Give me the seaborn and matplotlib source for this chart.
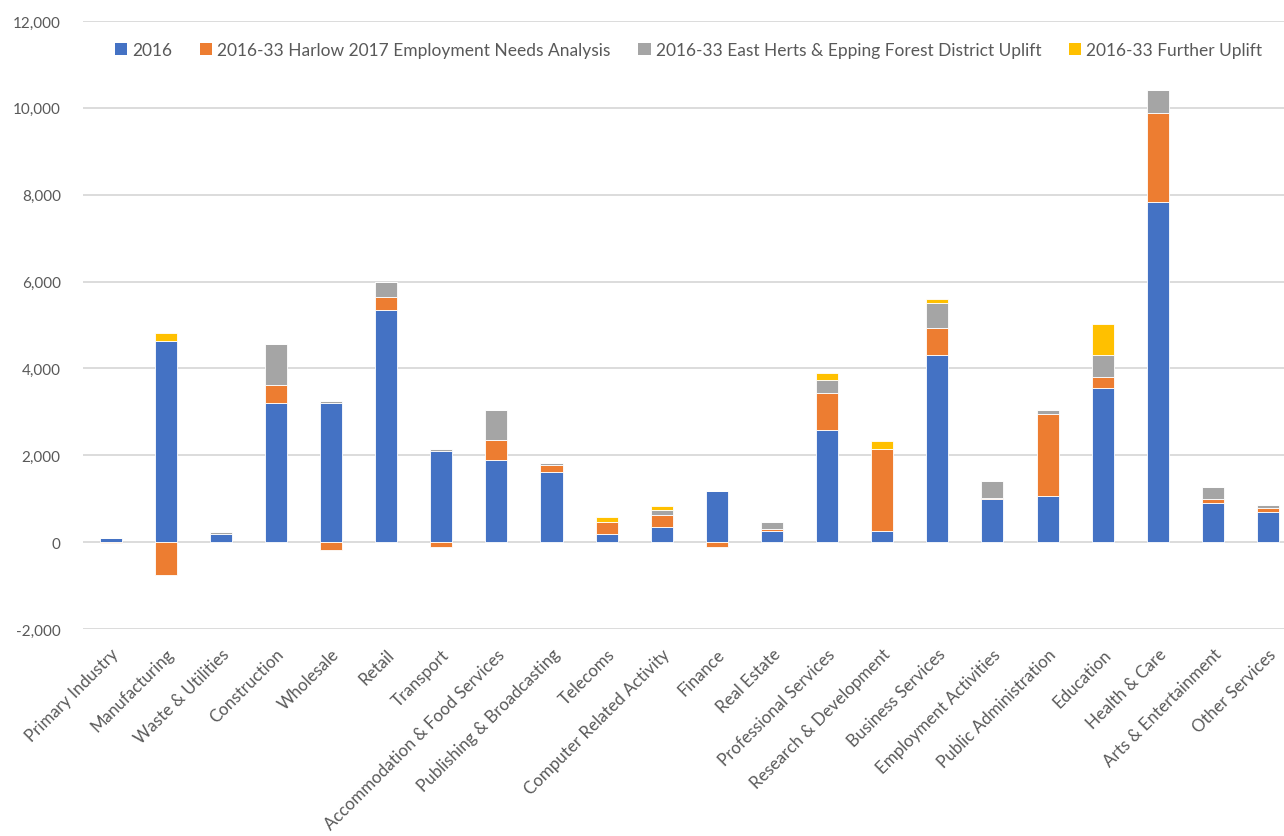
import numpy as np
import pandas as pd
import matplotlib
matplotlib.use("Agg")
import matplotlib.pyplot as plt
import seaborn as sns
from matplotlib.ticker import FuncFormatter
from matplotlib.patches import Patch

categories = ["Primary Industry", "Manufacturing", "Waste & Utilities", "Construction",
              "Wholesale", "Retail", "Transport", "Accommodation & Food Services",
              "Publishing & Broadcasting", "Telecoms", "Computer Related Activity",
              "Finance", "Real Estate", "Professional Services", "Research & Development",
              "Business Services", "Employment Activities", "Public Administration",
              "Education", "Health & Care", "Arts & Entertainment", "Other Services"]
v2016 = [100, 4640, 185, 3210, 3210, 5345, 2100, 1890, 1615, 185, 340, 1170, 255,
         2585, 255, 4300, 985, 1070, 3555, 7840, 905, 705]
harlow = [-15, -760, 0, 410, -190, 300, -115, 455, 160, 275, 285, -115, 45,
          860, 1885, 640, 40, 1870, 240, 2045, 80, 70]
eh_uplift = [0, 0, 40, 945, 40, 345, 40, 700, 45, 0, 125, 0, 170,
             300, 0, 570, 380, 95, 505, 530, 295, 85]
further = [0, 175, 0, 0, 0, 0, 0, 0, 0, 125, 90, 0, 0,
           160, 200, 90, 0, 0, 730, 0, 0, 0]

series_names = ["2016", "2016-33 Harlow 2017 Employment Needs Analysis",
                "2016-33 East Herts & Epping Forest District Uplift",
                "2016-33 Further Uplift"]
series_vals = [v2016, harlow, eh_uplift, further]
colors = ["#4472C4", "#ED7D31", "#A5A5A5", "#FFC000"]

sns.set_style("white")
plt.rcParams['font.family'] = ['Lato', 'DejaVu Sans']
text_color = "#595959"

fig = plt.figure(figsize=(12.84, 8.37), dpi=100)
ax = fig.add_axes([83/1284, 1 - 630/837, (1284 - 83)/1284, (630 - 22)/837])

pos_base = np.zeros(len(categories))
neg_base = np.zeros(len(categories))
for name, vals, col in zip(series_names, series_vals, colors):
    vals = np.array(vals, dtype=float)
    bottoms = np.where(vals >= 0, pos_base, neg_base)
    df = pd.DataFrame({"cat": categories, "val": vals})
    sns.barplot(data=df, x="cat", y="val", order=categories, color=col,
                bottom=bottoms, width=0.4, saturation=1, errorbar=None,
                edgecolor="white", linewidth=0.6, ax=ax, zorder=3)
    pos_base = pos_base + np.where(vals >= 0, vals, 0)
    neg_base = neg_base + np.where(vals < 0, vals, 0)

ax.set_ylim(-2000, 12000)
ax.set_xlim(-0.5, 21.29)
ax.set_yticks(range(-2000, 12001, 2000))
ax.yaxis.set_major_formatter(FuncFormatter(lambda v, p: f"{int(v):,}"))
ax.grid(axis="y", color="#D9D9D9", linewidth=1.3, zorder=0)
ax.set_axisbelow(True)
for s in ax.spines.values():
    s.set_visible(False)
ax.set_xlabel("")
ax.set_ylabel("")
ax.tick_params(axis="both", length=0, colors=text_color, labelsize=11)
ax.tick_params(axis="y", pad=16)
ax.set_xticks(range(len(categories)))
ax.set_xticklabels(categories, rotation=45, ha="right", rotation_mode="anchor",
                   color=text_color, fontsize=12.2)
ax.tick_params(axis="x", pad=12)

handles = [Patch(facecolor=c, edgecolor="none") for c in colors]
fig.legend(handles, series_names, loc="center", ncol=4,
           bbox_to_anchor=((83 + 1284) / 2 / 1284 + 0.004, 1 - 51/837), frameon=False,
           fontsize=12.5, handlelength=0.7, handleheight=0.7, handletextpad=0.3,
           columnspacing=1.6, labelcolor=text_color)

fig.savefig("out.png", dpi=100)
